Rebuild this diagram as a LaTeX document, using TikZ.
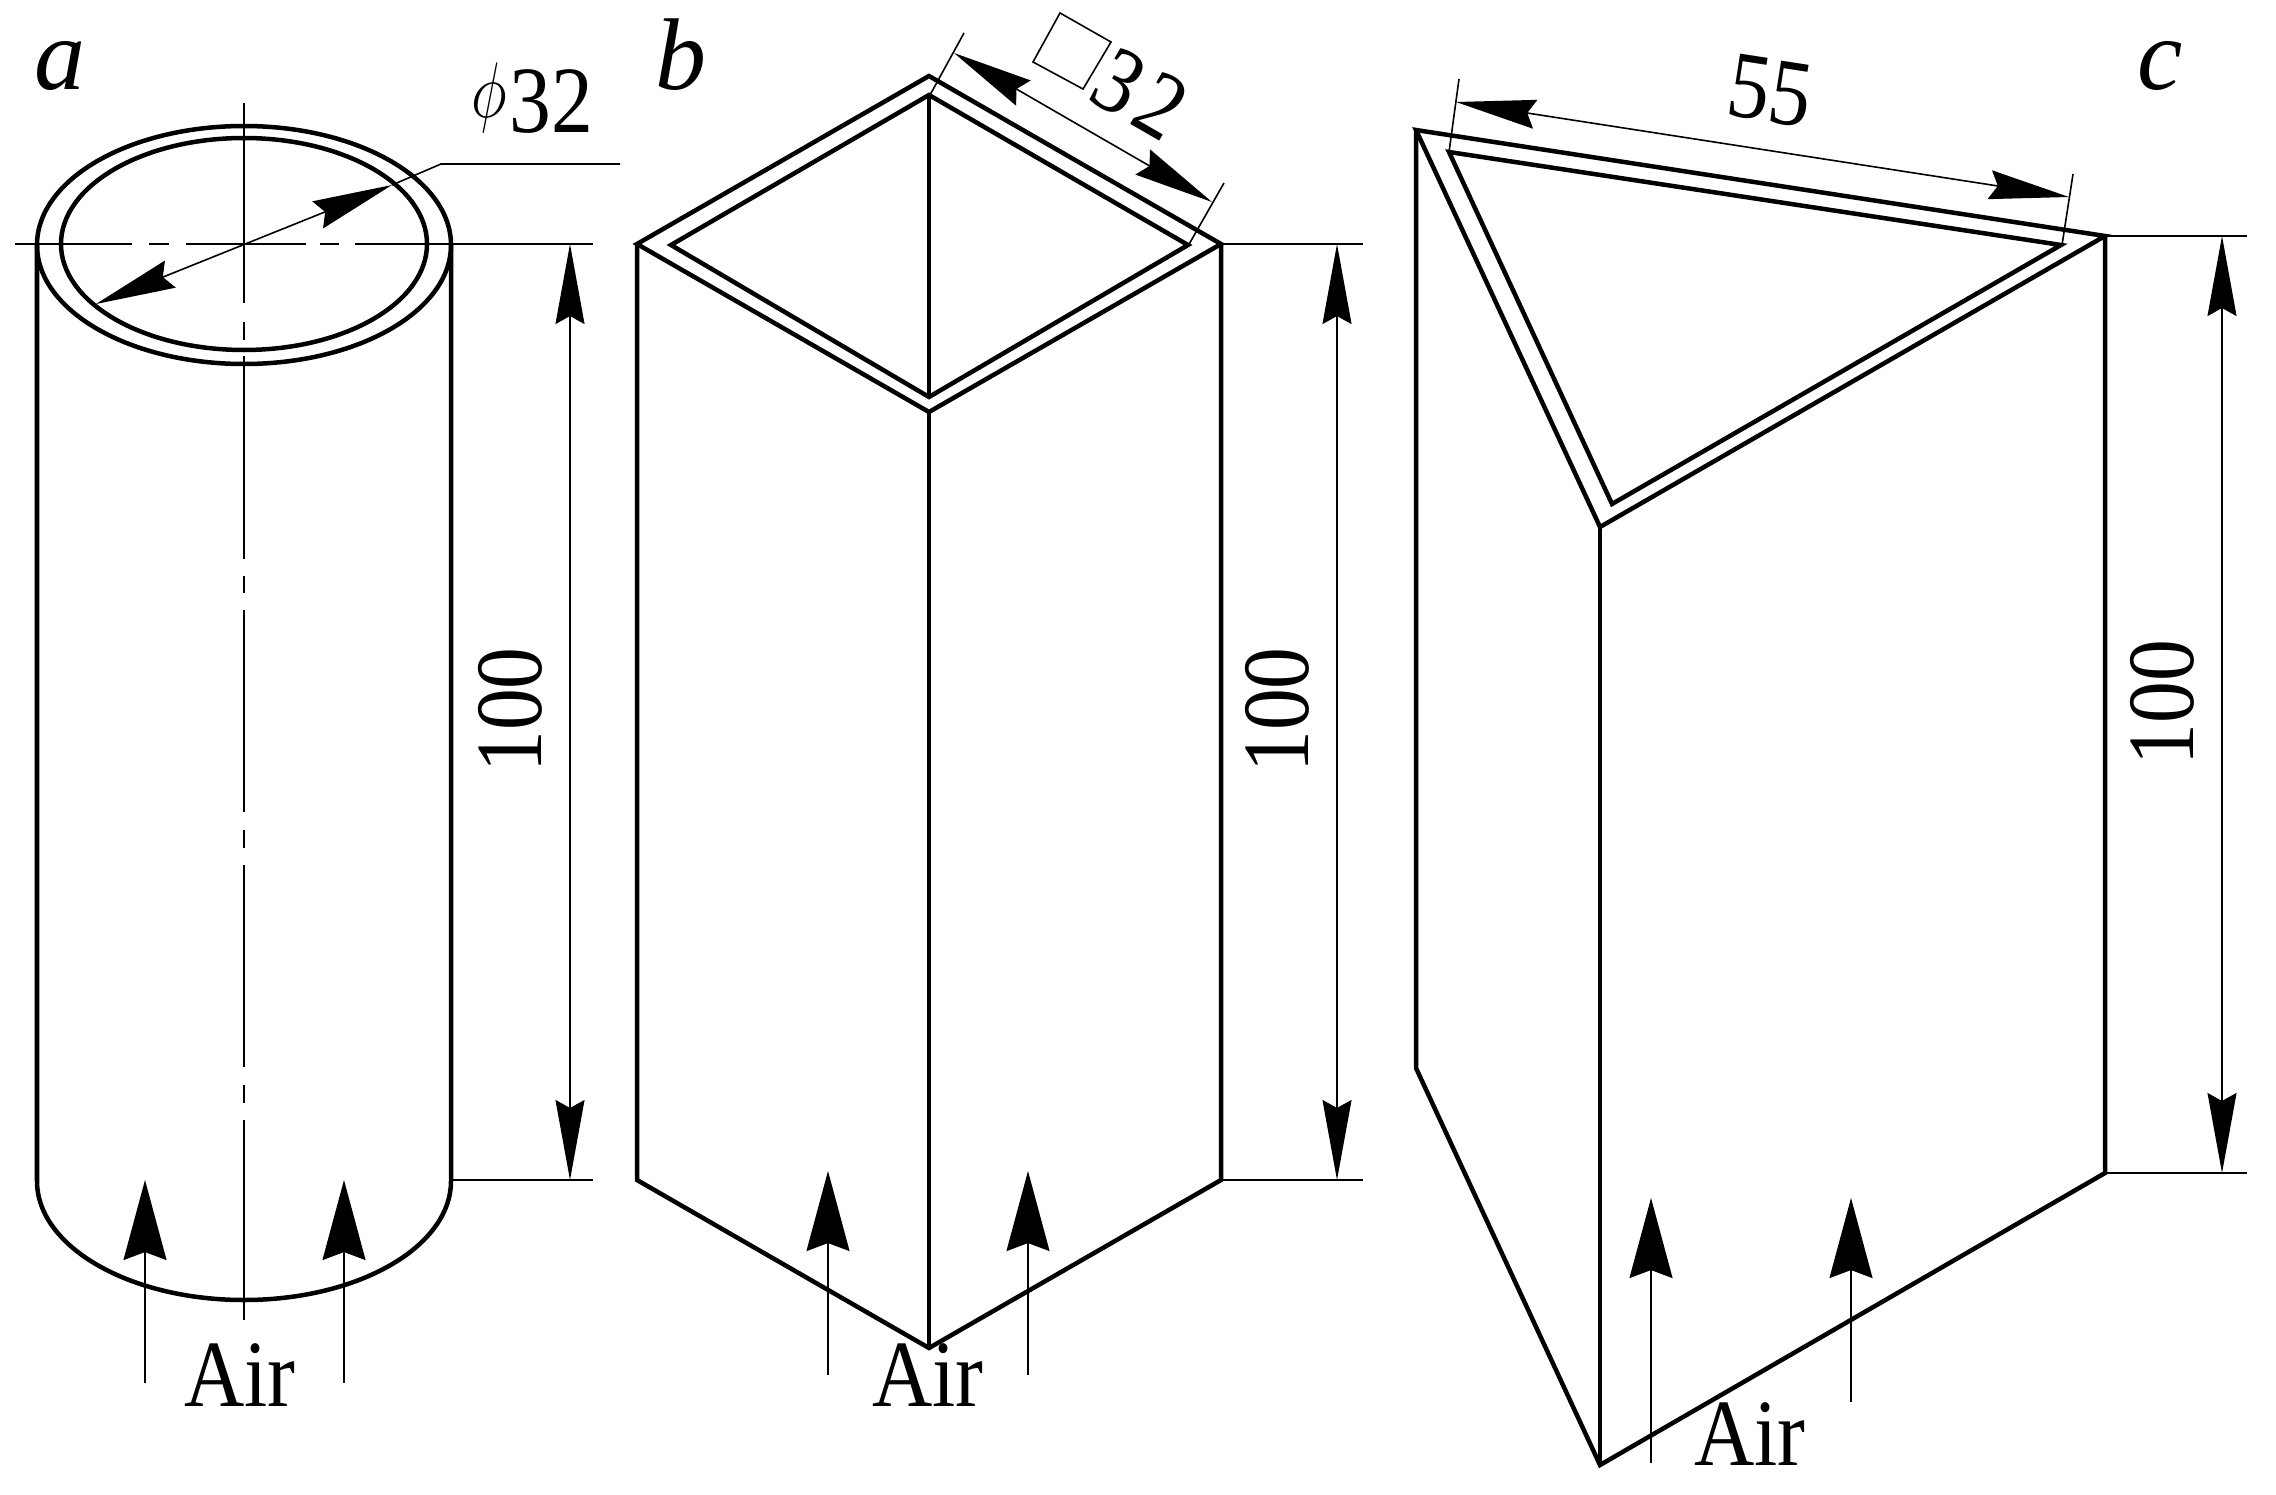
\documentclass[tikz,border=0pt]{standalone}
\usepackage{amsmath}
\usepackage{fontspec}
\usepackage{tikz}
\usetikzlibrary{arrows.meta}
\setmainfont{Liberation Serif}
\newfontfamily\dimFont[FakeStretch=0.88]{Liberation Serif}
\tikzstyle{sheet} = [x = .01cm, y = -.01cm]
\tikzstyle{wallLine} = [color=black, line width=.045cm, line join=miter]
\tikzstyle{thinLine} = [color=black, line width=.016cm]
\tikzstyle{extLine} = [color=black, line width=.02cm]
\tikzstyle{axisLine} = [color=black, line width=.02cm]
\tikzstyle{dimLine} = [thinLine, <->, >={Stealth[length=.8cm, width=.29cm, inset=.08cm]}]
\tikzstyle{airLine} = [thinLine, ->, >={Stealth[length=.8cm, width=.43cm, inset=.08cm]}]
\tikzstyle{dimText} = [font=\dimFont\fontsize{27}{30}\selectfont, inner sep=0]
\tikzstyle{partText} = [font=\itshape\fontsize{29}{34}\selectfont, inner sep=0, anchor=base]
\newcommand{\airArrow}[3]{\draw [airLine] (#1, #3) -- (#1, #2);}
\newcommand{\airText}[3]{\node [dimText, anchor=base] (#3) at (#1, #2) {Air};}
\newcommand{\heightDim}[5]{
  \draw [extLine] (#2, #3) -- (#2 + 142, #3);
  \draw [extLine] (#2, #4) -- (#2 + 142, #4);
  \draw [dimLine] (#1, #3) -- (#1, #4);
  \node [dimText, rotate=90] (#5) at (#1 - 60, #3 / 2 + #4 / 2 - 2) {100};
}
\newcommand{\axisPiece}[2]{\draw [axisLine] (244, #1) -- (244, #2);}
\newcommand{\crossPiece}[2]{\draw [axisLine] (#1, 244) -- (#2, 244);}
\begin{document}
\begin{tikzpicture}[sheet]
  \useasboundingbox (0, 0) rectangle (2276, 1494);

  \foreach \from/\to in {103/303, 322/340, 356/559, 576/593, 610/812, 830/848, 865/1067, 1085/1103, 1120/1320} {
    \axisPiece{\from}{\to}
  }
  \foreach \from/\to in {15/132, 149/169, 186/306, 320/339, 355/593} {
    \crossPiece{\from}{\to}
  }
  \draw [wallLine] (244, 245) ellipse [x radius = 207, y radius = 119];
  \draw [wallLine] (244, 244) ellipse [x radius = 183, y radius = 106];
  \draw [wallLine] (37, 245) -- (37, 1181) arc [start angle = 180, end angle = 0, x radius = 207, y radius = 119] -- (451, 245);
  \draw [dimLine] (96, 304) -- (392, 185);
  \draw [thinLine] (392, 185) -- (441, 164) -- (620, 164);
  \heightDim{570}{451}{244}{1180}{heightA}
  \airArrow{145}{1180}{1383}
  \airArrow{344}{1180}{1383}
  \airText{240}{1406}{airA}
  \node [partText] (partA) at (60, 90) {a};
  \node [dimText, anchor=base] (diameterA) at (532, 133) {\raisebox{.16em}{\scalebox{.7}[.9]{$\phi$}}\kern.03em 32};

  \draw [wallLine] (929, 76) -- (1221, 244) -- (929, 412) -- (637, 244) -- cycle;
  \draw [wallLine] (929, 95) -- (1188, 245) -- (929, 397) -- (671, 245) -- cycle;
  \draw [wallLine] (929, 95) -- (929, 397);
  \draw [wallLine] (637, 244) -- (637, 1180) -- (929, 1348) -- (1221, 1180) -- (1221, 244);
  \draw [wallLine] (929, 412) -- (929, 1348);
  \draw [thinLine] (964, 33) -- (930, 95);
  \draw [thinLine] (1224, 183) -- (1188, 246);
  \draw [dimLine] (954, 53) -- (1212, 202);
  \draw [thinLine] (1060, 13) -- (1111, 42) -- (1083, 89) -- (1033, 62) -- cycle;
  \node [dimText, rotate=-30] (widthB) at (1140, 94) {3\kern.07em 2};
  \heightDim{1337}{1221}{244}{1180}{heightB}
  \airArrow{828}{1171}{1375}
  \airArrow{1028}{1171}{1375}
  \airText{928}{1406}{airB}
  \node [partText] (partB) at (681, 90) {b};

  \draw [wallLine] (1416, 130) -- (2105, 236) -- (1600, 527) -- cycle;
  \draw [wallLine] (1449, 152) -- (2061, 245) -- (1612, 504) -- cycle;
  \draw [wallLine] (1416, 130) -- (1416, 1068) -- (1600, 1465) -- (2105, 1173) -- (2105, 236);
  \draw [wallLine] (1600, 527) -- (1600, 1465);
  \draw [thinLine] (1459, 79) -- (1449, 152);
  \draw [thinLine] (2073, 174) -- (2062, 245);
  \draw [dimLine] (1456, 102) -- (2069, 197);
  \node [dimText, rotate=-8.8] (widthC) at (1770, 91) {55};
  \heightDim{2222}{2105}{236}{1173}{heightC}
  \airArrow{1651}{1198}{1463}
  \airArrow{1851}{1198}{1402}
  \airText{1750}{1465}{airC}
  \node [partText] (partC) at (2160, 90) {c};
\end{tikzpicture}
\end{document}
